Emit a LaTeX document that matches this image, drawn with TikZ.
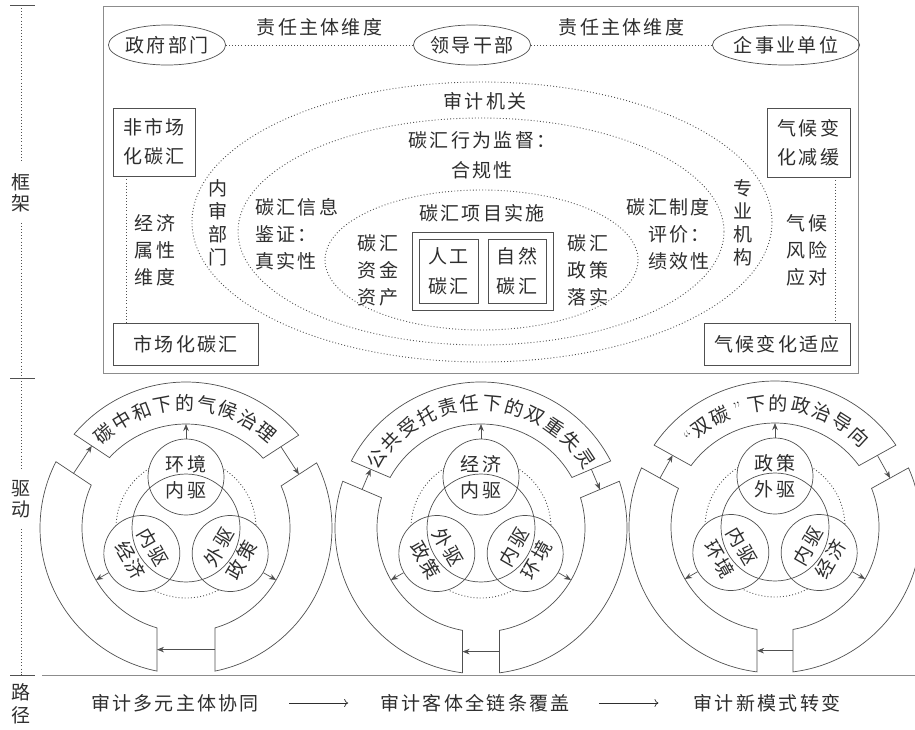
\documentclass[tikz,border=0pt]{standalone}
\usepackage{fontspec}
\newfontfamily\cjk[LetterSpace=12]{Noto Sans CJK SC}
\usetikzlibrary{arrows.meta,shapes.geometric,fit,positioning}
\definecolor{inkGray}{HTML}{2E2E2E}
\definecolor{lineGray}{HTML}{505050}
\definecolor{frameGray}{HTML}{8C8C8C}
\tikzset{
  lab/.style={font=\cjk\fontsize{19}{27}\selectfont,text=inkGray,inner sep=0pt,align=center},
  vlab/.style={lab,font=\cjk\fontsize{19}{23}\selectfont},
  box/.style={lab,draw=lineGray,line width=.7pt},
  oval/.style={lab,draw=lineGray,line width=.7pt,ellipse,minimum height=40pt},
  dotline/.style={draw=lineGray,line width=.9pt,dash pattern=on .9pt off 2.2pt},
  rim/.style={draw=lineGray,line width=.7pt},
  ring/.style={draw=lineGray,line width=.7pt,fill=white},
  drv/.style={lab,font=\cjk\fontsize{19}{26}\selectfont,circle,draw=lineGray,line width=.7pt,fill=white,minimum size=76pt},
  arr/.style={draw=lineGray,line width=.7pt,-{Stealth[length=7pt,width=5.5pt,inset=2.2pt]}},
  patharr/.style={draw=inkGray,line width=.7pt,-{To[length=4pt,width=8pt]}},
}
% ring segment from gap #1 (half width #2) counter-clockwise to gap #3 (half width #4)
\newcommand\ringseg[4]{%
  \draw[ring] ({#1+asin(#2/146)}:146) arc[start angle={#1+asin(#2/146)},end angle={#3-asin(#4/146)},radius=146]
    -- ({#3-asin(#4/104)}:104) arc[start angle={#3-asin(#4/104)},end angle={#1+asin(#2/104)},radius=104] -- cycle;}
% arrow across a gap, clockwise
\newcommand\gaparrow[3]{%
  \coordinate (#1a) at ({#2+asin(#3/125)}:125);
  \coordinate (#1b) at ({#2-asin(#3/125)}:125);
  \draw[arr] (#1a) -- (#1b);}

\begin{document}
\begin{tikzpicture}[x=1pt,y=1pt]
  \fill[white] (0,0) rectangle (915,-729);
  \useasboundingbox (0,0) rectangle (915,-729);

  % left axis
  \coordinate (k0) at (21,-5);
  \coordinate (k1) at (21,-378);
  \coordinate (k2) at (21,-675);
  \draw[rim] (10,-5) -- (35,-5);
  \draw[rim] (10,-378) -- (35,-378);
  \draw[rim] (10,-675) -- (35,-675);
  \draw[draw=frameGray,line width=.8pt] (42,-675) -- (915,-675);
  \node[vlab,font=\cjk\fontsize{19}{21}\selectfont,inner sep=11pt] (ax1) at (21,-192.5) {框\\架};
  \node[vlab,font=\cjk\fontsize{19}{21}\selectfont,inner sep=11pt] (ax2) at (21,-499) {驱\\动};
  \node[vlab,font=\cjk\fontsize{19}{23}\selectfont,inner sep=11pt] (ax3) at (21,-704) {路\\径};
  \draw[dotline] (k0) -- (ax1);
  \draw[dotline] (ax1) -- (k1);
  \draw[dotline] (k1) -- (ax2);
  \draw[dotline] (ax2) -- (k2);
  \draw[dotline] (k2) -- (ax3);

  % framework
  \draw[draw=frameGray,line width=.8pt] (103,-6) rectangle (858,-373);
  \node[oval,minimum width=110pt] (gov) at (167,-45) {政府部门};
  \node[oval,minimum width=110pt] (lead) at (472,-45) {领导干部};
  \node[oval,minimum width=127pt] (firm) at (786,-45) {企事业单位};
  \draw[dotline] (gov) -- node[lab,above=8pt] (dimA) {责任主体维度} (lead);
  \draw[dotline] (lead) -- node[lab,above=8pt] (dimB) {责任主体维度} (firm);

  \node[box,minimum width=82pt,minimum height=68pt] (nmkt) at (154,-142) {非市场\\[2pt]化碳汇};
  \node[box,minimum width=83pt,minimum height=69pt] (mitig) at (808.5,-142.5) {气候变\\[2pt]化减缓};
  \node[box,minimum width=145pt,minimum height=42pt] (mkt) at (185.5,-344) {市场化碳汇};
  \node[box,minimum width=146pt,minimum height=42pt] (adapt) at (777,-344) {气候变化适应};
  \draw[dotline] ([xshift=14pt]nmkt.south west) -- ([xshift=14pt]mkt.north west);
  \draw[dotline] ([xshift=-15pt]mitig.south east) -- ([xshift=-15pt]adapt.north east);
  \node[lab] (econ) at (155,-250) {经济\\属性\\维度};
  \node[lab] (risk) at (807,-250) {气候\\风险\\应对};

  \draw[dotline] (482,-222) ellipse[x radius=290,y radius=140];
  \draw[dotline] (481,-231.5) ellipse[x radius=243,y radius=113.5];
  \draw[dotline] (481.5,-260) ellipse[x radius=156.5,y radius=70];

  \node[lab] (aud) at (485,-101) {审计机关};
  \node[lab] (sup) at (482,-155) {碳汇行为监督：\\[3pt]合规性};
  \node[vlab] (inaud) at (218,-222.5) {内\\审\\部\\门};
  \node[vlab] (agency) at (743,-222.5) {专\\业\\机\\构};
  \node[lab,align=left,anchor=west] (info) at (255,-234.5) {碳汇信息\\鉴证：\\真实性};
  \node[lab,align=right,anchor=east] (sys) at (710,-234) {碳汇制度\\评价：\\绩效性};
  \node[lab] (fund) at (378,-270) {碳汇\\资金\\资产};
  \node[lab] (pol) at (588,-270) {碳汇\\政策\\落实};
  \node[lab] (proj) at (482,-213) {碳汇项目实施};
  \node[box,minimum width=59pt,minimum height=64pt] (art) at (448.5,-271) {人工\\[3pt]碳汇};
  \node[box,minimum width=58pt,minimum height=64pt] (nat) at (517,-271) {自然\\[3pt]碳汇};
  \node[draw=lineGray,line width=.7pt,fit=(art)(nat),inner sep=6.5pt] (sinkbox) {};

  % drive: carbon neutrality
  \begin{scope}[shift={(186,-528)}]
    \ringseg{33}{16.5}{146.5}{16.5}
    \ringseg{146.5}{16.5}{270}{29}
    \ringseg{270}{29}{393}{16.5}
    \foreach \ch [count=\i from 0] in {碳,中,和,下,的,气,候,治,理}
      \node[lab,rotate={41-10.125*\i}] (ta\i) at ({131-10.125*\i}:125) {\ch};
    \gaparrow{gaL}{146.5}{16.5}
    \gaparrow{gaR}{33}{16.5}
    \gaparrow{gaB}{270}{29}
    \draw[dotline] (0,0) circle[radius=70];
    \node[drv] (caT) at (90:51) {环境\\内驱};
    \node[drv,rotate=-60] (caL) at (210:51) {内驱\\经济};
    \node[drv,rotate=60] (caR) at (330:51) {外驱\\政策};
    \draw[rim] (0,0) circle[radius=54];
    \coordinate (raT) at (90:104);
    \coordinate (raL) at (210:104);
    \coordinate (raR) at (330:104);
    \draw[arr] (caT.north) -- (raT);
    \draw[arr] (caL.south) -- (raL);
    \draw[arr] (caR.south) -- (raR);
  \end{scope}

  % drive: public accountability
  \begin{scope}[shift={(481,-528)}]
    \ringseg{23}{11}{157}{11}
    \ringseg{157}{11}{270}{18.5}
    \ringseg{270}{18.5}{383}{11}
    \foreach \ch [count=\i from 0] in {公,共,受,托,责,任,下,的,双,重,失,灵}
      \node[lab,rotate={56.5-10.27*\i}] (tb\i) at ({146.5-10.27*\i}:125) {\ch};
    \gaparrow{gbL}{157}{11}
    \gaparrow{gbR}{23}{11}
    \gaparrow{gbB}{270}{18.5}
    \draw[dotline] (0,0) circle[radius=70];
    \node[drv] (cbT) at (90:51) {经济\\内驱};
    \node[drv,rotate=-60] (cbL) at (210:51) {外驱\\政策};
    \node[drv,rotate=60] (cbR) at (330:51) {内驱\\环境};
    \draw[rim] (0,0) circle[radius=54];
    \coordinate (rbT) at (90:104);
    \coordinate (rbL) at (210:104);
    \coordinate (rbR) at (330:104);
    \draw[arr] (cbT.north) -- (rbT);
    \draw[arr] (cbL.south) -- (rbL);
    \draw[arr] (cbR.south) -- (rbR);
  \end{scope}

  % drive: dual carbon
  \begin{scope}[shift={(775,-527)}]
    \ringseg{29}{13}{151}{13}
    \ringseg{151}{13}{270}{18}
    \ringseg{270}{18}{389}{13}
    \foreach \ch/\a [count=\i] in {{\rmfamily “}/133.5,双/126.5,碳/116.2,{\rmfamily ”}/107.5,下/98.6,的/88.3,政/78,治/67.7,导/57.4,向/47.1}
      \node[lab,rotate={\a-90}] (tc\i) at (\a:124) {\ch};
    \gaparrow{gcL}{151}{13}
    \gaparrow{gcR}{29}{13}
    \gaparrow{gcB}{270}{18}
    \draw[dotline] (0,0) circle[radius=70];
    \node[drv] (ccT) at (90:51) {政策\\外驱};
    \node[drv,rotate=-60] (ccL) at (210:51) {内驱\\环境};
    \node[drv,rotate=60] (ccR) at (330:51) {内驱\\经济};
    \draw[rim] (0,0) circle[radius=54];
    \coordinate (rcT) at (90:104);
    \coordinate (rcL) at (210:104);
    \coordinate (rcR) at (330:104);
    \draw[arr] (ccT.north) -- (rcT);
    \draw[arr] (ccL.south) -- (rcL);
    \draw[arr] (ccR.south) -- (rcR);
  \end{scope}

  % path
  \node[lab] (p1) at (175,-703) {审计多元主体协同};
  \node[lab] (p2) at (475,-703) {审计客体全链条覆盖};
  \node[lab] (p3) at (767,-703) {审计新模式转变};
  \draw[patharr,shorten <=30pt,shorten >=32pt] (p1) -- (p2);
  \draw[patharr,shorten <=29pt,shorten >=35pt] (p2) -- (p3);
\end{tikzpicture}
\end{document}
